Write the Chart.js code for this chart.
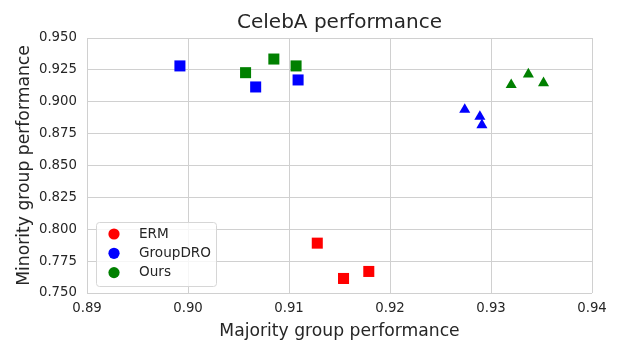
<!DOCTYPE html>
<html lang="en">
<head>
  <meta charset="UTF-8">
  <title>CelebA performance</title>
  <script src="https://cdn.jsdelivr.net/npm/chart.js"></script>
  <style>
    body {
      margin: 0;
      background: #ffffff;
    }
    #wrap {
      width: 623px;
      height: 356px;
    }
  </style>
</head>
<body>
  <div id="wrap">
    <canvas id="chart1" width="623" height="356"></canvas>
  </div>

  <script>
    // tick labels
    const xTicks = [0.89, 0.90, 0.91, 0.92, 0.93, 0.94];
    const yTicks = [0.750, 0.775, 0.800, 0.825, 0.850, 0.875, 0.900, 0.925, 0.950];

    // legend entries (one per method)
    const methods = ['ERM', 'GroupDRO', 'Ours'];
    const methodColors = ['#ff0000', '#0000ff', '#008000'];

    // ERM (squares)
    const ermX = [0.9128, 0.9154, 0.9179];
    const ermY = [0.7891, 0.7614, 0.7669];

    // GroupDRO (squares + triangles)
    const droSqX = [0.8992, 0.9067, 0.9109];
    const droSqY = [0.9281, 0.9116, 0.9171];
    const droTriX = [0.9274, 0.9289, 0.9291];
    const droTriY = [0.8938, 0.8883, 0.8818];

    // Ours (squares + triangles)
    const oursSqX = [0.9057, 0.9085, 0.9107];
    const oursSqY = [0.9228, 0.9335, 0.9281];
    const oursTriX = [0.9320, 0.9337, 0.9352];
    const oursTriY = [0.9132, 0.9216, 0.9147];

    function pts(xs, ys) {
      return xs.map((x, i) => ({ x: x, y: ys[i] }));
    }

    function marks(label, xs, ys, color, style) {
      return {
        label: label,
        data: pts(xs, ys),
        pointStyle: style,
        pointRadius: style === 'rect' ? 7.8 : 6.4,
        pointHoverRadius: style === 'rect' ? 7.8 : 6.4,
        backgroundColor: color,
        borderColor: color,
        borderWidth: 0
      };
    }

    const textColor = '#262626';
    const gridColor = '#d0d0d0';

    // legend drawn inside the plot, lower left, with round markers
    const insideLegend = {
      id: 'insideLegend',
      afterDatasetsDraw(chart) {
        const ctx = chart.ctx;
        const area = chart.chartArea;
        const x0 = area.left + 9, y0 = area.bottom - 71;
        const w = 120, h = 64, r = 3;
        ctx.save();
        ctx.beginPath();
        ctx.roundRect(x0 + 0.5, y0 + 0.5, w, h, r);
        ctx.fillStyle = 'rgba(255,255,255,0.8)';
        ctx.fill();
        ctx.strokeStyle = '#d6d6d6';
        ctx.lineWidth = 1;
        ctx.stroke();
        ctx.font = '13.6px "DejaVu Sans"';
        ctx.textBaseline = 'middle';
        methods.forEach((m, i) => {
          const cy = y0 + 12 + i * 19.3;
          ctx.beginPath();
          ctx.arc(x0 + 18, cy, 5.6, 0, Math.PI * 2);
          ctx.fillStyle = methodColors[i];
          ctx.fill();
          ctx.fillStyle = textColor;
          ctx.fillText(m, x0 + 43, cy);
        });
        ctx.restore();
      }
    };

    const ctx1 = document.getElementById('chart1').getContext('2d');
    new Chart(ctx1, {
      type: 'scatter',
      data: {
        datasets: [
          marks('ERM', ermX, ermY, methodColors[0], 'rect'),
          marks('GroupDRO', droSqX, droSqY, methodColors[1], 'rect'),
          marks('GroupDRO', droTriX, droTriY, methodColors[1], 'triangle'),
          marks('Ours', oursSqX, oursSqY, methodColors[2], 'rect'),
          marks('Ours', oursTriX, oursTriY, methodColors[2], 'triangle')
        ]
      },
      options: {
        responsive: false,
        animation: false,
        layout: {
          padding: { left: 0, right: 31, top: 0, bottom: 0 }
        },
        scales: {
          x: {
            type: 'linear',
            min: 0.89,
            max: 0.94,
            afterBuildTicks: axis => { axis.ticks = xTicks.map(v => ({ value: v })); },
            afterFit: axis => { axis.height = 63; },
            ticks: {
              padding: 8,
              color: textColor,
              font: { family: 'DejaVu Sans', size: 13.3 },
              callback: v => v.toFixed(2)
            },
            grid: { color: gridColor, lineWidth: 1, drawTicks: false },
            border: { display: false },
            title: {
              display: true,
              text: 'Majority group performance',
              color: textColor,
              font: { family: 'DejaVu Sans', size: 17.2 },
              padding: { top: 4, bottom: 14 }
            }
          },
          y: {
            type: 'linear',
            min: 0.75,
            max: 0.95,
            afterBuildTicks: axis => { axis.ticks = yTicks.map(v => ({ value: v })); },
            afterFit: axis => { axis.width = 87; },
            ticks: {
              padding: 10,
              color: textColor,
              font: { family: 'DejaVu Sans', size: 13.3 },
              callback: v => v.toFixed(3)
            },
            grid: { color: gridColor, lineWidth: 1, drawTicks: false },
            border: { display: false },
            title: {
              display: true,
              text: 'Minority group performance',
              color: textColor,
              font: { family: 'DejaVu Sans', size: 17.2 },
              padding: { top: 14, bottom: 0 }
            }
          }
        },
        plugins: {
          legend: { display: false },
          tooltip: { enabled: false },
          title: {
            display: true,
            text: 'CelebA performance',
            fullSize: false,
            color: textColor,
            font: { family: 'DejaVu Sans', size: 20, weight: 'normal' },
            padding: { top: 11, bottom: 3 }
          }
        }
      },
      plugins: [insideLegend]
    });
  </script>
</body>
</html>
